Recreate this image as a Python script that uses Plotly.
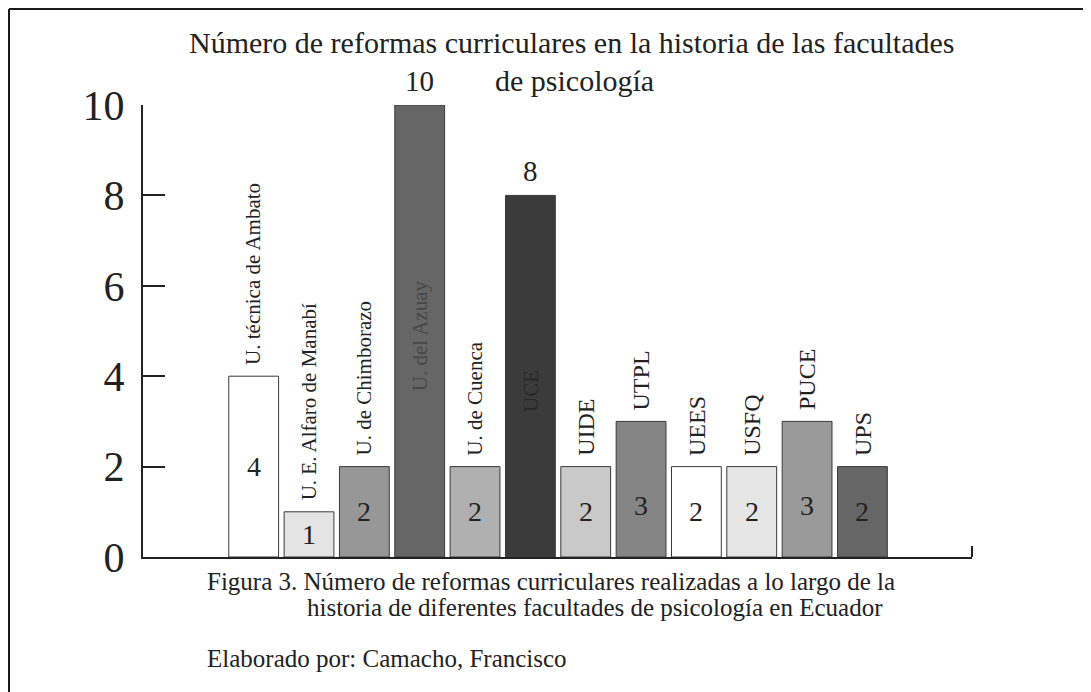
import plotly.graph_objects as go

universidades = ["U. técnica de Ambato", "U. E. Alfaro de Manabí", "U. de Chimborazo",
                 "U. del Azuay", "U. de Cuenca", "UCE", "UIDE", "UTPL", "UEES",
                 "USFQ", "PUCE", "UPS"]
reformas = [4, 1, 2, 10, 2, 8, 2, 3, 2, 2, 3, 2]
colores = ["#ffffff", "#e4e4e4", "#979797", "#666666", "#b0b0b0", "#3b3b3b",
           "#c9c9c9", "#858585", "#ffffff", "#e6e6e6", "#9a9a9a", "#666666"]
y_ticks = [0, 2, 4, 6, 8, 10]

FONT = "Liberation Serif"
INK = "#222222"

# Page has an 8px body margin; figure is sized to fit the 1091x692 window.
OFF = 8
W, H = 1091 - OFF, 692 - OFF
L, T = 143 - OFF, 105 - OFF
R = W - (972 - OFF)
B = H - (557 - OFF)
pw, ph = W - L - R, H - T - B


def px(xpage):
    return (xpage - OFF - L) / pw


def py(ypage):
    return (H - B - (ypage - OFF)) / ph


xs = list(range(len(universidades)))

fig = go.Figure()
fig.add_trace(go.Bar(
    x=xs, y=reformas, width=0.9,
    marker=dict(color=colores, line=dict(color="#3a3a3a", width=1)),
    hoverinfo="skip", showlegend=False,
))

ann = []
for i, (name, v) in enumerate(zip(universidades, reformas)):
    long_name = name.startswith("U.")
    fsize = 21 if long_name else 24
    if v >= 8:
        ann.append(dict(x=i, y=v * 0.49 if v == 10 else v * 0.46, text=name,
                        textangle=-90, showarrow=False, xanchor="center", yanchor="middle",
                        font=dict(family=FONT, size=21,
                                  color="#474747" if v == 10 else "#272727")))
        ann.append(dict(x=i, y=v, text=str(v), showarrow=False, xanchor="center",
                        yanchor="bottom", yshift=6,
                        font=dict(family=FONT, size=29, color=INK)))
    else:
        ann.append(dict(x=i, y=v, text=name, textangle=-90, showarrow=False,
                        xanchor="center", yanchor="bottom", yshift=9,
                        font=dict(family=FONT, size=fsize, color=INK)))
        ny = v / 2 if v != 3 else 1.15
        ann.append(dict(x=i, y=ny, text=str(v), showarrow=False, xanchor="center",
                        yanchor="middle",
                        font=dict(family=FONT, size=28, color=INK)))

# Title
ann.append(dict(xref="paper", yref="paper", x=px(572), y=py(43),
                text="Número de reformas curriculares en la historia de las facultades",
                showarrow=False, xanchor="center", yanchor="middle",
                font=dict(family=FONT, size=30, color=INK)))
ann.append(dict(xref="paper", yref="paper", x=px(574), y=py(80),
                text="de psicología",
                showarrow=False, xanchor="center", yanchor="middle",
                font=dict(family=FONT, size=30, color=INK)))
# Caption
ann.append(dict(xref="paper", yref="paper", x=px(205), y=py(581),
                text="Figura 3. Número de reformas curriculares realizadas a lo largo de la",
                showarrow=False, xanchor="left", yanchor="middle",
                font=dict(family=FONT, size=25, color=INK)))
ann.append(dict(xref="paper", yref="paper", x=px(305), y=py(607),
                text="historia de diferentes facultades de psicología en Ecuador",
                showarrow=False, xanchor="left", yanchor="middle",
                font=dict(family=FONT, size=25, color=INK)))
ann.append(dict(xref="paper", yref="paper", x=px(205), y=py(658),
                text="Elaborado por: Camacho, Francisco",
                showarrow=False, xanchor="left", yanchor="middle",
                font=dict(family=FONT, size=25, color=INK)))

shapes = [
    # frame (top and left)
    dict(type="line", xref="paper", yref="paper", x0=px(OFF + 1), x1=px(1091), y0=py(OFF + 1), y1=py(OFF + 1),
         line=dict(color="#1a1a1a", width=2)),
    dict(type="line", xref="paper", yref="paper", x0=px(OFF + 1), x1=px(OFF + 1), y0=py(OFF + 1), y1=py(692),
         line=dict(color="#1a1a1a", width=2)),
    # small upward tick at end of x axis
    dict(type="line", xref="paper", yref="paper", x0=1, x1=1, y0=0, y1=11 / ph,
         line=dict(color=INK, width=2)),
]

fig.update_layout(
    width=W, height=H,
    margin=dict(l=L, r=R, t=T, b=B, pad=0),
    paper_bgcolor="white", plot_bgcolor="white",
    annotations=ann, shapes=shapes,
    font=dict(family=FONT, color=INK),
    xaxis=dict(range=[-2.0, 12.98], showgrid=False, zeroline=False, showticklabels=False,
               ticks="", showline=True, linecolor=INK, linewidth=2, fixedrange=True),
    yaxis=dict(range=[0, 10], tickvals=y_ticks, ticktext=[str(t) for t in y_ticks],
               showgrid=False, zeroline=False, showline=True, linecolor=INK, linewidth=2,
               ticks="inside", ticklen=22, tickwidth=2, tickcolor=INK,
               tickfont=dict(family=FONT, size=42, color=INK), ticklabelstandoff=8,
               fixedrange=True),
    bargap=0.1,
)
fig.update_traces(cliponaxis=False)

fig.write_html("out.html")
